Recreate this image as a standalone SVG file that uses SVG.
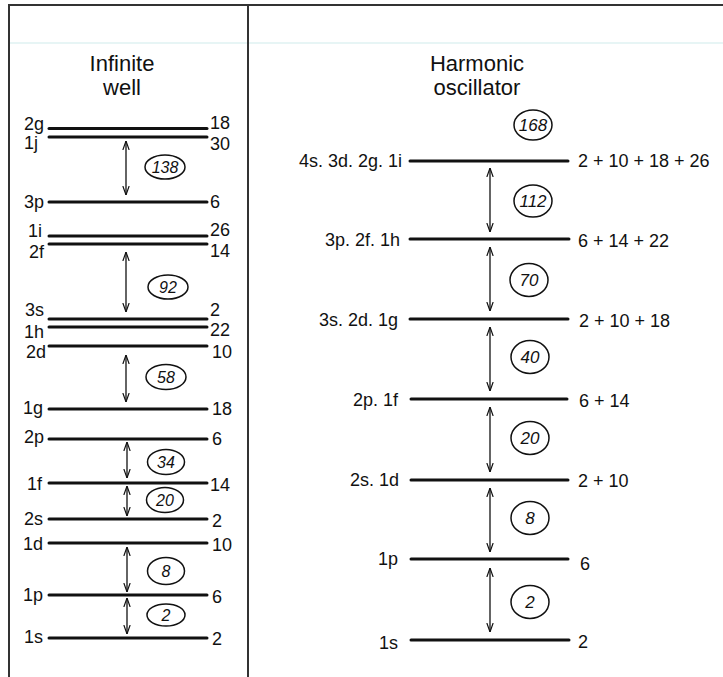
<svg xmlns="http://www.w3.org/2000/svg" width="723" height="677" viewBox="0 0 723 677">
<style>
text{font-family:"Liberation Sans",Arial,sans-serif;fill:#111}
.lab{font-size:18px}
.l{text-anchor:end}
.title{font-size:22px;text-anchor:middle}
.num{font-size:16px;font-style:italic;text-anchor:middle}
.numr{font-size:17px;font-style:italic;text-anchor:middle}
.lvl{stroke:#111;stroke-width:3;stroke-linecap:round}
.arr{stroke:#111;stroke-width:1.3;fill:none;marker-start:url(#ah);marker-end:url(#ah)}
.ell{fill:none;stroke:#111;stroke-width:1.5}
.frame{stroke:#333;stroke-width:2;fill:none}
</style>
<defs>
<marker id="ah" viewBox="0 0 10 10" refX="10" refY="5" markerWidth="9" markerHeight="9" markerUnits="userSpaceOnUse" orient="auto-start-reverse">
<path d="M0,1.5 L10,5 L0,8.5" fill="none" stroke="#111" stroke-width="1.3"/>
</marker>
</defs>
<rect width="723" height="677" fill="#ffffff"/>
<line x1="9" y1="43" x2="723" y2="43" stroke="#dff2f2" stroke-width="1.5"/>
<g id="frame">
<path class="frame" d="M9,677 V5 H723"/>
<line class="frame" x1="248" y1="5" x2="248" y2="677"/>
</g>
<g id="titles">
<text class="title" x="122" y="71">Infinite</text>
<text class="title" x="122" y="95">well</text>
<text class="title" x="477" y="71">Harmonic</text>
<text class="title" x="477" y="95">oscillator</text>
</g>
<!-- Infinite well levels -->
<g id="iw-2g"><line class="lvl" x1="49" y1="128.5" x2="207" y2="128.5"/><text class="lab l" x="44" y="130">2g</text><text class="lab" x="210" y="129">18</text></g>
<g id="iw-1j"><line class="lvl" x1="49" y1="137" x2="207" y2="137"/><text class="lab l" x="38" y="149">1j</text><text class="lab" x="210" y="150">30</text></g>
<g id="iw-3p"><line class="lvl" x1="49" y1="202" x2="207" y2="202"/><text class="lab l" x="44" y="208">3p</text><text class="lab" x="210" y="208">6</text></g>
<g id="iw-1i"><line class="lvl" x1="49" y1="236" x2="207" y2="236"/><text class="lab l" x="42" y="237">1i</text><text class="lab" x="210" y="236">26</text></g>
<g id="iw-2f"><line class="lvl" x1="49" y1="244" x2="207" y2="244"/><text class="lab l" x="44" y="258">2f</text><text class="lab" x="210" y="257">14</text></g>
<g id="iw-3s"><line class="lvl" x1="49" y1="319" x2="207" y2="319"/><text class="lab l" x="44" y="316">3s</text><text class="lab" x="210" y="316">2</text></g>
<g id="iw-1h"><line class="lvl" x1="49" y1="327" x2="207" y2="327"/><text class="lab l" x="44" y="338">1h</text><text class="lab" x="210" y="336">22</text></g>
<g id="iw-2d"><line class="lvl" x1="49" y1="346" x2="207" y2="346"/><text class="lab l" x="46" y="358">2d</text><text class="lab" x="212" y="358">10</text></g>
<g id="iw-1g"><line class="lvl" x1="49" y1="409" x2="207" y2="409"/><text class="lab l" x="43" y="414">1g</text><text class="lab" x="212" y="415">18</text></g>
<g id="iw-2p"><line class="lvl" x1="49" y1="439" x2="207" y2="439"/><text class="lab l" x="44" y="443">2p</text><text class="lab" x="212" y="445">6</text></g>
<g id="iw-1f"><line class="lvl" x1="49" y1="483" x2="207" y2="483"/><text class="lab l" x="42" y="490">1f</text><text class="lab" x="210" y="491">14</text></g>
<g id="iw-2s"><line class="lvl" x1="49" y1="519" x2="207" y2="519"/><text class="lab l" x="43" y="525">2s</text><text class="lab" x="212" y="527">2</text></g>
<g id="iw-1d"><line class="lvl" x1="49" y1="543" x2="207" y2="543"/><text class="lab l" x="43" y="550">1d</text><text class="lab" x="212" y="551">10</text></g>
<g id="iw-1p"><line class="lvl" x1="49" y1="595" x2="207" y2="595"/><text class="lab l" x="43" y="601">1p</text><text class="lab" x="212" y="603">6</text></g>
<g id="iw-1s"><line class="lvl" x1="49" y1="638" x2="207" y2="638"/><text class="lab l" x="43" y="643">1s</text><text class="lab" x="212" y="645">2</text></g>
<!-- Harmonic oscillator levels -->
<g id="ho-4"><line class="lvl" x1="410" y1="161" x2="568" y2="161"/><text class="lab l" x="402" y="167">4s. 3d. 2g. 1i</text><text class="lab" x="578" y="167">2 + 10 + 18 + 26</text></g>
<g id="ho-3p"><line class="lvl" x1="410" y1="239" x2="569" y2="239"/><text class="lab l" x="400" y="246">3p. 2f. 1h</text><text class="lab" x="578" y="247">6 + 14 + 22</text></g>
<g id="ho-3s"><line class="lvl" x1="410" y1="319" x2="568" y2="319"/><text class="lab l" x="398" y="326">3s. 2d. 1g</text><text class="lab" x="579" y="327">2 + 10 + 18</text></g>
<g id="ho-2p"><line class="lvl" x1="411" y1="399" x2="567" y2="399"/><text class="lab l" x="398" y="406">2p. 1f</text><text class="lab" x="579" y="407">6 + 14</text></g>
<g id="ho-2s"><line class="lvl" x1="411" y1="480" x2="568" y2="480"/><text class="lab l" x="399" y="486">2s. 1d</text><text class="lab" x="578" y="487">2 + 10</text></g>
<g id="ho-1p"><line class="lvl" x1="411" y1="559" x2="568" y2="559"/><text class="lab l" x="398" y="565">1p</text><text class="lab" x="580" y="570">6</text></g>
<g id="ho-1s"><line class="lvl" x1="411" y1="640" x2="569" y2="640"/><text class="lab l" x="398" y="649">1s</text><text class="lab" x="578" y="648">2</text></g>
<!-- gap labels -->
<g id="gaps">
<ellipse class="ell" cx="165" cy="167" rx="20" ry="12"/><text class="num" x="165" y="172.5">138</text>
<ellipse class="ell" cx="168" cy="287" rx="20" ry="12"/><text class="num" x="168" y="292.5">92</text>
<ellipse class="ell" cx="166" cy="377" rx="20" ry="12.5"/><text class="num" x="166" y="382.5">58</text>
<ellipse class="ell" cx="166" cy="462" rx="18.5" ry="12.5"/><text class="num" x="166" y="467.5">34</text>
<ellipse class="ell" cx="165" cy="500" rx="18.5" ry="12.5"/><text class="num" x="165" y="505.5">20</text>
<ellipse class="ell" cx="166" cy="571" rx="18.5" ry="13.5"/><text class="num" x="166" y="576.5">8</text>
<ellipse class="ell" cx="166" cy="615" rx="19" ry="11"/><text class="num" x="166" y="620.5">2</text>
<ellipse class="ell" cx="533" cy="125" rx="19" ry="15"/><text class="numr" x="533" y="131">168</text>
<ellipse class="ell" cx="533" cy="201" rx="19" ry="16"/><text class="numr" x="533" y="207">112</text>
<ellipse class="ell" cx="529" cy="280" rx="19" ry="16.5"/><text class="numr" x="529" y="286">70</text>
<ellipse class="ell" cx="530" cy="357" rx="19" ry="16.5"/><text class="numr" x="530" y="363">40</text>
<ellipse class="ell" cx="530" cy="438" rx="19" ry="16.5"/><text class="numr" x="530" y="444">20</text>
<ellipse class="ell" cx="530" cy="518" rx="19" ry="16.5"/><text class="numr" x="530" y="524">8</text>
<ellipse class="ell" cx="530" cy="602" rx="19" ry="16.5"/><text class="numr" x="530" y="608">2</text>
</g>
<g id="connectors">
<line class="arr" x1="126" y1="141" x2="126" y2="195"/>
<line class="arr" x1="126" y1="252" x2="126" y2="312"/>
<line class="arr" x1="126" y1="355" x2="126" y2="402"/>
<line class="arr" x1="127" y1="442" x2="127" y2="478"/>
<line class="arr" x1="127" y1="486" x2="127" y2="516"/>
<line class="arr" x1="127" y1="547" x2="127" y2="592"/>
<line class="arr" x1="127" y1="598" x2="127" y2="634"/>
<line class="arr" x1="490" y1="168" x2="490" y2="232"/>
<line class="arr" x1="490" y1="247" x2="490" y2="311"/>
<line class="arr" x1="490" y1="327" x2="490" y2="391"/>
<line class="arr" x1="490" y1="407" x2="490" y2="472"/>
<line class="arr" x1="490" y1="488" x2="490" y2="552"/>
<line class="arr" x1="490" y1="568" x2="490" y2="632"/>
</g>
</svg>
